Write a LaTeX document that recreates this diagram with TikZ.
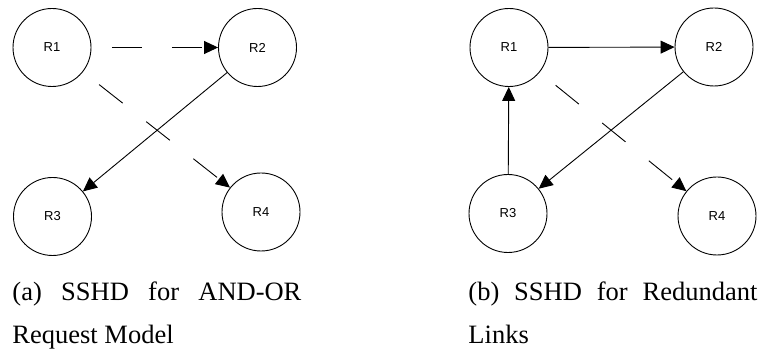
\documentclass[tikz,border=0pt]{standalone}
\usepackage{fontspec}
\setmainfont{Liberation Serif}
\newfontfamily\labelfont{Liberation Sans}
\usetikzlibrary{arrows.meta}

\begin{document}
\begin{tikzpicture}[x=1pt, y=-1pt, >={Triangle[length=14pt, width=13pt]}, line width=0.9pt,
    res/.style={draw, circle, minimum size=78pt, inner sep=0pt, font=\labelfont\fontsize{13}{15}\selectfont},
    dashlink/.style={->, dash pattern=on 30pt off 30pt, dash phase=39.5pt},
    caption/.style={anchor=base west, inner sep=0pt, text width=289pt, align=justify, font=\fontsize{26.5}{43}\selectfont}]
\useasboundingbox (0,0) rectangle (762,352);

% (a) AND-OR request model
\node[res] (a1) at (52,47.5) {R1};
\node[res] (a2) at (257.5,47.5) {R2};
\node[res] (a3) at (52.5,216.5) {R3};
\node[res] (a4) at (261,212) {R4};
\draw[dashlink] (a1) -- (a2);
\draw[dashlink] (a1) -- (a4);
\draw[->] (a2) -- (a3);
\node[caption] (capa) at (12,301) {(a) SSHD for AND-OR\linebreak Request Model};

% (b) redundant links
\node[res] (b1) at (509,47.5) {R1};
\node[res] (b2) at (714,47) {R2};
\node[res] (b3) at (508,213.5) {R3};
\node[res] (b4) at (717,216) {R4};
\draw[->] (b1) -- (b2);
\draw[->] (b3) -- (b1);
\draw[->] (b2) -- (b3);
\draw[dashlink] (b1) -- (b4);
\node[caption] (capb) at (468,301) {(b) SSHD for Redundant\linebreak Links};

\end{tikzpicture}
\end{document}
